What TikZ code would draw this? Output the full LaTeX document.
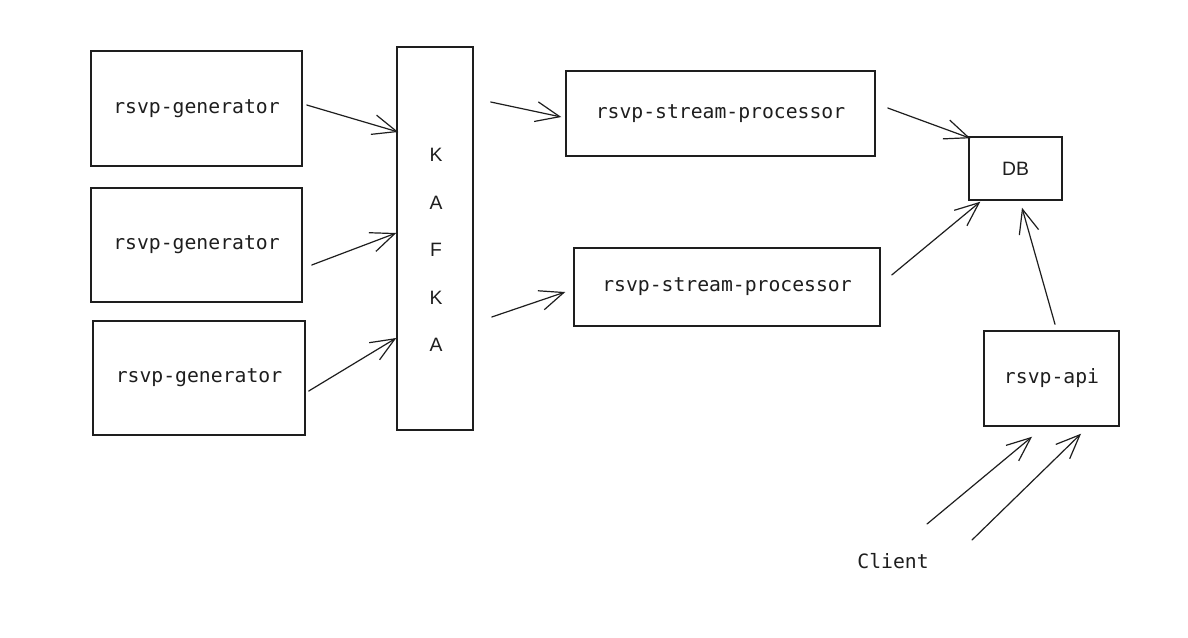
\documentclass[tikz,border=0pt]{standalone}
\usepackage{fontspec}
\setmonofont{DejaVu Sans Mono}
\newfontfamily\kafkafont{Liberation Sans}
\usetikzlibrary{arrows.meta,positioning}
\definecolor{ink}{HTML}{1E1E1E}

\begin{document}
\begin{tikzpicture}[x=0.75pt,y=-0.75pt,
  box/.style={draw=ink,line width=1.1pt,rectangle,inner sep=0pt,text=ink,font=\ttfamily\fontsize{14.8}{17}\selectfont},
  flow/.style={ink,line width=0.9pt,line cap=round,-{Straight Barb[length=18pt,width=15pt,line width=0.9pt]}}]
\fill[white] (0,0) rectangle (1188,637);
\useasboundingbox (0,0) rectangle (1188,637);
\node[box,minimum width=158.25pt,minimum height=86.25pt] (gen1) at (196.5,108.5) {rsvp-generator};
\node[box,minimum width=158.25pt,minimum height=85.5pt] (gen2) at (196.5,245) {rsvp-generator};
\node[box,minimum width=159pt,minimum height=85.5pt] (gen3) at (199,378) {rsvp-generator};
\node[box,minimum width=57pt,minimum height=287.25pt] (kafka) at (435,238.5) {};
\node[text=ink,align=center,font=\kafkafont\fontsize{14.5}{35.6}\selectfont] (kafkatext) at (436,250) {K\\A\\F\\K\\A};
\node[box,minimum width=231.75pt,minimum height=63.75pt] (sp1) at (720.5,113.5) {rsvp-stream-processor};
\node[box,minimum width=229.5pt,minimum height=58.5pt] (sp2) at (727,287) {rsvp-stream-processor};
\node[box,font=\kafkafont\fontsize{14.5}{17}\selectfont,minimum width=69.75pt,minimum height=47.25pt] (db) at (1015.5,168.5) {DB};
\node[box,minimum width=101.25pt,minimum height=71.25pt] (api) at (1051.5,378.5) {rsvp-api};
\node[text=ink,font=\ttfamily\fontsize{14.8}{17}\selectfont] (client) at (893,561) {Client};
\path[flow]
([shift={(4,-3.5)}]gen1.east) edge ([shift={(2,-106.5)}]kafka.west)
([shift={(9,20)}]gen2.east) edge ([shift={(0,-5.5)}]kafka.west)
([shift={(3,13)}]gen3.east) edge ([shift={(0,99.5)}]kafka.west)
([shift={(17,-136.5)}]kafka.east) edge ([shift={(-4,3.5)}]sp1.west)
([shift={(18,78.5)}]kafka.east) edge ([shift={(-8,5)}]sp2.west)
([shift={(12,-5.5)}]sp1.east) edge ([shift={(2,2)}]db.north west)
([shift={(11,-12)}]sp2.east) edge ([shift={(12,1)}]db.south west)
([shift={(3.5,-6)}]api.north) edge ([shift={(6.5,7)}]db.south)
([shift={(34,-37)}]client.center) edge ([shift={(-19.5,10)}]api.south)
([shift={(79,-21)}]client.center) edge ([shift={(29.5,7)}]api.south);
\end{tikzpicture}
\end{document}
